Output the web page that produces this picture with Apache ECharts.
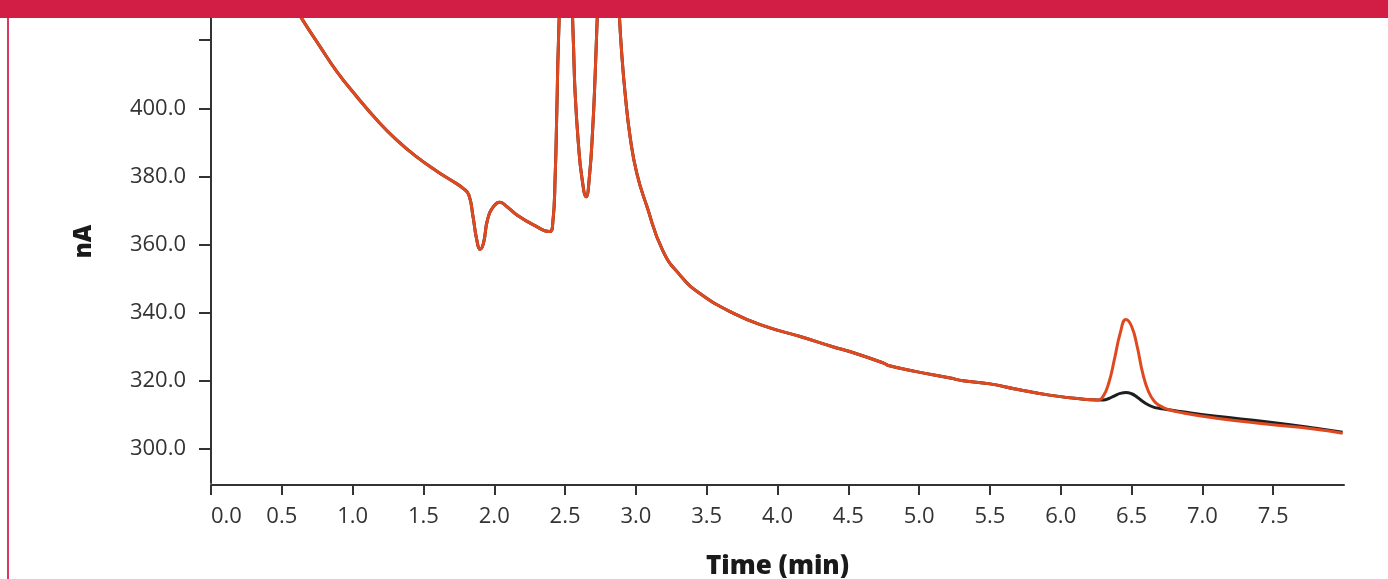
<!DOCTYPE html>
<html>
<head>
<meta charset="utf-8">
<script src="https://cdn.jsdelivr.net/npm/echarts@6/dist/echarts.min.js"></script>
<style>
html,body{margin:0;padding:0;background:#fff;}
#chart{width:1388px;height:579px;}
</style>
</head>
<body>
<div id="chart"></div>
<script>
// Retention time (min)
var times = [0.50,0.64,0.77,0.89,1.03,1.17,1.31,1.45,1.60,1.71,1.78,1.82,1.85,1.877,1.90,1.924,1.952,1.994,2.04,2.09,2.16,2.28,2.39,2.413,2.430,2.442,2.453,2.505,2.559,2.571,2.594,2.618,2.649,2.672,2.696,2.712,2.724,2.80,2.884,2.90,2.924,2.959,3.006,3.077,3.19,3.31,3.45,3.69,3.92,4.16,4.39,4.51,4.75,4.79,4.98,5.22,5.31,5.50,5.69,5.92,6.16,6.26,6.30,6.34,6.38,6.42,6.46,6.50,6.54,6.58,6.62,6.66,6.70,6.75,6.86,7.10,7.45,7.80,7.99];
// Blank / reference trace (black)
var blackTrace = [436.0,426.4,418.1,410.7,403.4,396.6,390.7,385.8,381.4,378.5,376.5,374.6,368.2,361.3,358.6,360.4,367.2,371.1,372.4,371.1,368.7,365.7,363.8,366.2,379.9,399.5,419.1,480,419.1,404.4,389.7,379.9,374.0,379.9,394.6,409.3,423.0,500,426.9,416.1,404.4,391.7,381.0,371.3,358.2,351.1,345.7,339.8,335.9,333.0,330.0,328.6,325.2,324.4,322.7,320.8,320.0,319.1,317.5,315.8,314.6,314.4,314.4,314.8,315.6,316.3,316.6,316.2,315.2,313.9,312.9,312.2,311.9,311.6,310.9,309.6,308.0,306.1,304.9];
// Sample trace (orange)
var sampleTrace = [436.0,426.4,418.1,410.7,403.4,396.6,390.7,385.8,381.4,378.5,376.5,374.6,368.2,361.3,358.6,360.4,367.2,371.1,372.4,371.1,368.7,365.7,363.8,366.2,379.9,399.5,419.1,480,419.1,404.4,389.7,379.9,374.0,379.9,394.6,409.3,423.0,500,426.9,416.1,404.4,391.7,381.0,371.3,358.2,351.1,345.7,339.8,335.9,333.0,330.0,328.6,325.2,324.4,322.7,320.8,320.0,319.1,317.5,315.8,314.6,314.4,315.5,319.5,326.5,334.0,338.0,336.0,330.0,322.0,316.8,314.0,312.7,311.7,310.6,309.0,307.3,305.8,304.6];
var yTickValues = [300,320,340,360,380,400,420];
var yLabelValues = [300,320,340,360,380,400];

function pairs(vals){ return times.map(function(t,i){ return [t, vals[i]]; }); }

var chart = echarts.init(document.getElementById('chart'));
var axisColor = '#333333';
var font = "'Open Sans', 'Noto Sans', sans-serif";
chart.setOption({
  animation: false,
  backgroundColor: '#ffffff',
  grid: {left: 211, right: 44, top: 18, bottom: 96, containLabel: false, outerBoundsMode: 'none'},
  xAxis: {
    type: 'value', min: 0, max: 8, interval: 0.5, offset: 2,
    name: 'Time (min)', nameLocation: 'middle', nameGap: 69,
    nameTextStyle: {fontFamily: font, fontWeight: 800, fontSize: 26, color: '#1a1a1a'},
    axisLine: {show: true, lineStyle: {color: axisColor, width: 2}},
    axisTick: {show: true, length: 10, lineStyle: {color: axisColor, width: 2}},
    axisLabel: {margin: 21, fontFamily: font, fontSize: 22, color: '#333',
      showMaxLabel: false, alignMinLabel: 'left',
      formatter: function(v){ return v.toFixed(1); }},
    splitLine: {show: false}
  },
  yAxis: {
    type: 'value', min: 290, max: 426.5, offset: 3,
    name: 'nA', nameLocation: 'middle', nameGap: 112, nameRotate: 90,
    nameTextStyle: {fontFamily: font, fontWeight: 800, fontSize: 24, color: '#1a1a1a', padding: [0, 0, 0, 18]},
    axisLine: {show: true, lineStyle: {color: axisColor, width: 2}},
    axisTick: {show: true, length: 12, customValues: yTickValues, lineStyle: {color: axisColor, width: 2}},
    axisLabel: {margin: 22, fontFamily: font, fontSize: 22, color: '#333', customValues: yLabelValues,
      formatter: function(v){ return v.toFixed(1); }},
    splitLine: {show: false}
  },
  series: [
    {type: 'line', data: pairs(blackTrace), showSymbol: false, smooth: 0.5, clip: true,
     lineStyle: {color: '#1e1e1e', width: 3}, z: 2},
    {type: 'line', data: pairs(sampleTrace), showSymbol: false, smooth: 0.5, clip: true,
     lineStyle: {color: '#e0491f', width: 3}, z: 3}
  ],
  graphic: [
    {type: 'rect', shape: {x: 0, y: 0, width: 1388, height: 18}, style: {fill: '#d21e45'}, z: 100},
    {type: 'rect', shape: {x: 7, y: 18, width: 2, height: 561}, style: {fill: '#d9385a'}, z: 100}
  ]
});
</script>
</body>
</html>
